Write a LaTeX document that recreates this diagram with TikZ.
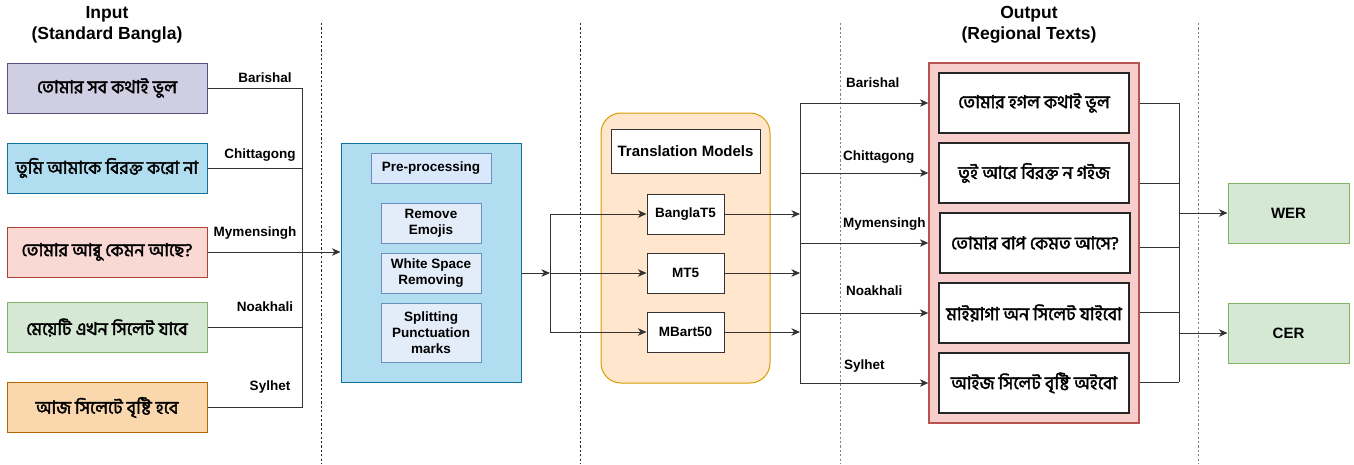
\documentclass[tikz,border=0pt]{standalone}
\usepackage{fontspec}
\setmainfont{Liberation Sans}
\newfontfamily\bn[Script=Bengali, FakeBold=2.2]{Hind Siliguri}
\usetikzlibrary{arrows.meta}
\definecolor{purF}{HTML}{D0CEE2}\definecolor{purD}{HTML}{56517E}
\definecolor{bluF}{HTML}{B1DDF0}\definecolor{bluD}{HTML}{10739E}
\definecolor{redF}{HTML}{FAD9D5}\definecolor{redD}{HTML}{AE4132}
\definecolor{grnF}{HTML}{D5E8D4}\definecolor{grnD}{HTML}{82B366}
\definecolor{orgF}{HTML}{FAD7AC}\definecolor{orgD}{HTML}{B46504}
\definecolor{ltbF}{HTML}{DAE8FC}\definecolor{ltbD}{HTML}{6C8EBF}
\definecolor{stpF}{HTML}{E3ECF9}
\definecolor{tmF}{HTML}{FFE6CC}\definecolor{tmD}{HTML}{D79B00}
\definecolor{outF}{HTML}{F8CECC}\definecolor{outD}{HTML}{B85450}
\begin{document}
\begin{tikzpicture}[x=1pt,y=-1pt,
  lbl/.style={font=\fontsize{13.5}{16}\selectfont\bfseries, inner sep=0pt},
  ttl/.style={font=\fontsize{17.5}{21}\selectfont\bfseries, align=center, inner sep=0pt},
  bntxt/.style={font=\bn\fontsize{17.8}{19}\selectfont},
  box/.style={draw, inner sep=0pt, align=center, line width=1pt},
  conn/.style={draw=black!80, line width=1pt},
  arr/.style={conn, -{Stealth[length=8.5pt,width=7.5pt,inset=2.5pt]}},
  sep/.style={line width=0.9pt, dash pattern=on 2.2pt off 2.2pt},
]
\useasboundingbox (0,0) rectangle (1354,464);

% separators
\draw[sep, black!85] (321,23) -- (321,464);
\draw[sep, black!85] (580,23) -- (580,464);
\draw[sep, black!50] (840,23) -- (840,464);
\draw[sep, black!50] (1198,23) -- (1198,464);

% titles
\node[ttl] (tin) at (107,25) {Input\\(Standard Bangla)};
\node[ttl] (tout) at (1029,25) {Output\\(Regional Texts)};

% input boxes
\node[box, bntxt, fill=purF, draw=purD, minimum width=200, minimum height=50] (in1) at (107,88) {তোমার সব কথাই ভুল};
\node[box, bntxt, fill=bluF, draw=bluD, minimum width=200, minimum height=50] (in2) at (107,168) {তুমি আমাকে বিরক্ত করো না};
\node[box, bntxt, fill=redF, draw=redD, minimum width=200, minimum height=50] (in3) at (107,252) {তোমার আব্বু কেমন আছে?};
\node[box, bntxt, fill=grnF, draw=grnD, minimum width=200, minimum height=50] (in4) at (107,327.5) {মেয়েটি এখন সিলেট যাবে};
\node[box, bntxt, fill=orgF, draw=orgD, minimum width=200, minimum height=50] (in5) at (107,407.5) {আজ সিলেটে বৃষ্টি হবে};

% input labels
\node[lbl] (l1) at (265,78) {Barishal};
\node[lbl] (l2) at (260,155) {Chittagong};
\node[lbl] (l3) at (255,233) {Mymensingh};
\node[lbl] (l4) at (265,307) {Noakhali};
\node[lbl] (l5) at (270,387) {Sylhet};

% preprocessing
\node[box, fill=bluF, draw=bluD, minimum width=180, minimum height=239] (pre) at (431,262.5) {};
\node[box, lbl, fill=ltbF, draw=ltbD, minimum width=120, minimum height=30] (ppt) at (431,168) {Pre-processing};
\node[box, lbl, fill=stpF, draw=ltbD, minimum width=100, minimum height=40] (s1) at (431,223) {Remove\\Emojis};
\node[box, lbl, fill=stpF, draw=ltbD, minimum width=100, minimum height=40] (s2) at (431,273) {White Space\\Removing};
\node[box, lbl, fill=stpF, draw=ltbD, minimum width=100, minimum height=59] (s3) at (431,332.5) {Splitting\\Punctuation\\marks};

% translation models
\node[box, fill=tmF, draw=tmD, rounded corners=20pt, minimum width=169, minimum height=270] (tm) at (685.5,248) {};
\node[box, fill=white, draw=black!80, minimum width=149, minimum height=44, font=\fontsize{15}{17}\selectfont\bfseries] (tmt) at (685.5,151) {Translation Models};
\node[box, lbl, fill=white, draw=black!80, minimum width=77, minimum height=40] (m1) at (685.5,214) {BanglaT5};
\node[box, lbl, fill=white, draw=black!80, minimum width=77, minimum height=40] (m2) at (685.5,273) {MT5};
\node[box, lbl, fill=white, draw=black!80, minimum width=77, minimum height=40] (m3) at (685.5,332) {MBart50};

% output
\node[box, fill=outF, draw=outD, line width=1.3pt, minimum width=210, minimum height=360] (out) at (1034,243) {};
\node[box, bntxt, fill=white, draw=black!85, line width=1.2pt, minimum width=190, minimum height=60] (o1) at (1034,103) {তোমার হগল কথাই ভুল};
\node[box, bntxt, fill=white, draw=black!85, line width=1.2pt, minimum width=190, minimum height=60] (o2) at (1034,173) {তুই আরে বিরক্ত ন গইজ};
\node[box, bntxt, fill=white, draw=black!85, line width=1.2pt, minimum width=190, minimum height=60] (o3) at (1035,243) {তোমার বাপ কেমত আসে?};
\node[box, bntxt, fill=white, draw=black!85, line width=1.2pt, minimum width=190, minimum height=60] (o4) at (1034,313) {মাইয়াগা অন সিলেট যাইবো};
\node[box, bntxt, fill=white, draw=black!85, line width=1.2pt, minimum width=190, minimum height=60] (o5) at (1034,383) {আইজ সিলেট বৃষ্টি অইবো};

% output labels
\node[lbl, anchor=west] (r1l) at (846,83) {Barishal};
\node[lbl, anchor=west] (r2l) at (843,157) {Chittagong};
\node[lbl, anchor=west] (r3l) at (843,224) {Mymensingh};
\node[lbl, anchor=west] (r4l) at (846,291) {Noakhali};
\node[lbl, anchor=west] (r5l) at (844,366) {Sylhet};

% metrics
\node[box, lbl, font=\fontsize{15}{17}\selectfont\bfseries, fill=grnF, draw=grnD, minimum width=121, minimum height=60] (wer) at (1288.5,213) {WER};
\node[box, lbl, font=\fontsize{15}{17}\selectfont\bfseries, fill=grnF, draw=grnD, minimum width=121, minimum height=60] (cer) at (1288.5,333) {CER};

% input bus
\coordinate (bx) at (302,0);
\foreach \i in {1,2,4,5} {\draw[conn] (in\i.east) -- (in\i.east -| bx);}
\draw[conn] (in1.east -| bx) -- (in5.east -| bx);
\draw[arr] (in3.east) -- (pre.west |- in3.east);

% preprocessing to models
\coordinate (mb) at (550,273);
\draw[arr] (pre.east |- mb) -- (mb);
\draw[conn] (mb |- m1) -- (mb |- m3);
\draw[arr] (mb |- m1) -- (m1.west);
\draw[arr] (mb |- m2) -- (m2.west);
\draw[arr] (mb |- m3) -- (m3.west);

% models to outputs
\coordinate (ob) at (800,0);
\draw[arr] (m1.east) -- (m1.east -| ob);
\draw[arr] (m2.east) -- (m2.east -| ob);
\draw[arr] (m3.east) -- (m3.east -| ob);
\draw[conn] (ob |- o1) -- (ob |- o5);
\foreach \i in {1,...,5} {\draw[arr] (ob |- o\i) -- (out.west |- o\i);}

% outputs to metrics
\coordinate (q1) at (1179,103);
\coordinate (q2) at (1179,183);
\coordinate (q3) at (1179,247);
\coordinate (q4) at (1179,312);
\coordinate (q5) at (1179,382);
\foreach \i in {1,...,5} {\draw[conn] (out.east |- q\i) -- (q\i);}
\draw[conn] (q1) -- (q5);
\draw[arr] (q1 |- wer) -- (wer.west);
\draw[arr] (q1 |- cer) -- (cer.west);
\end{tikzpicture}
\end{document}
